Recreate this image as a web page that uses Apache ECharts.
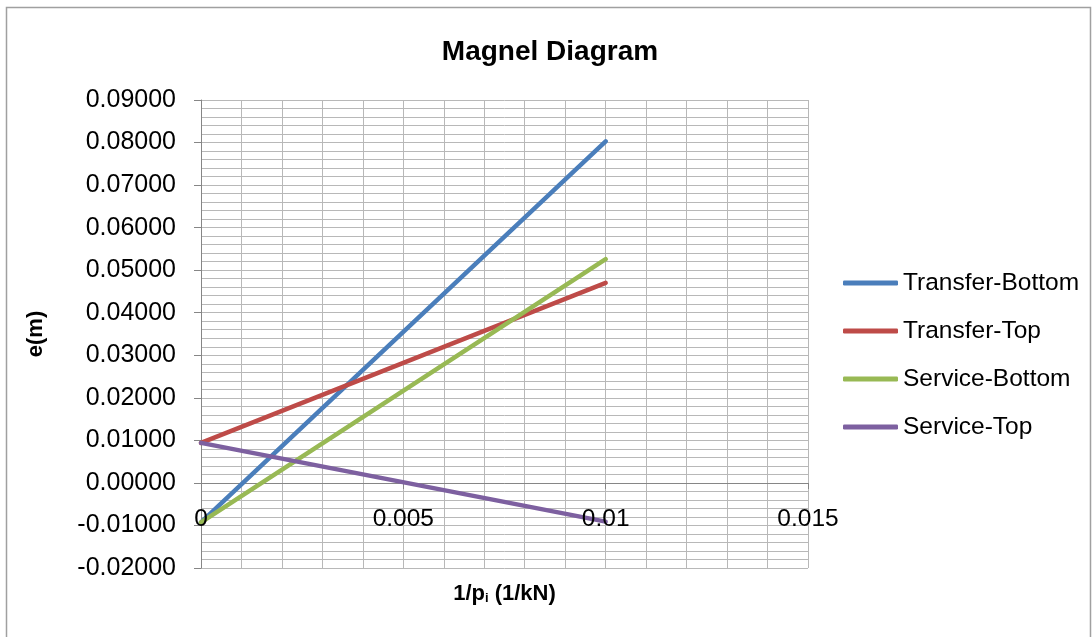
<!DOCTYPE html>
<html>
<head>
<meta charset="utf-8">
<script src="https://cdn.jsdelivr.net/npm/echarts@6/dist/echarts.min.js"></script>
<style>
html,body{margin:0;padding:0;background:#fff;}
#main{width:1092px;height:637px;}
</style>
</head>
<body>
<div id="main"></div>
<script>
const seriesNames = ['Transfer-Bottom', 'Transfer-Top', 'Service-Bottom', 'Service-Top'];
const xValues = [0, 0.01];
const transferBottom = [-0.0093, 0.0803];
const transferTop = [0.0094, 0.0470];
const serviceBottom = [-0.0093, 0.0526];
const serviceTop = [0.0094, -0.0091];
const colors = ['#4A7EBB', '#BE4B48', '#98B954', '#7D60A0'];

const allValues = [transferBottom, transferTop, serviceBottom, serviceTop];
const FONT = '"Liberation Sans", Arial, sans-serif';

const chart = echarts.init(document.getElementById('main'));
chart.setOption({
  animation: false,
  backgroundColor: '#fff',
  title: {
    text: 'Magnel Diagram',
    left: 545, top: 33, textAlign: 'center',
    textStyle: {fontFamily: FONT, fontWeight: 'bold', fontSize: 28, color: '#000'}
  },
  legend: {
    orient: 'vertical', left: 843, top: 270, padding: 0,
    icon: 'roundRect', itemWidth: 55, itemHeight: 5, itemGap: 22,
    textStyle: {fontFamily: FONT, fontSize: 24.5, color: '#000', lineHeight: 26},
    data: seriesNames
  },
  grid: {left: 201, right: 284, top: 100, bottom: 69, containLabel: false, outerBoundsMode: 'none'},
  xAxis: [{
    type: 'value', min: 0, max: 0.015, interval: 0.005,
    offset: -85,
    axisLine: {show: true, onZero: false, lineStyle: {color: '#868686', width: 1}},
    axisTick: {show: true, inside: false, length: 6, lineStyle: {color: '#868686'}},
    axisLabel: {show: false},
    splitLine: {show: true, lineStyle: {color: '#b8b8b8', width: 1}},
    minorTick: {show: false, splitNumber: 5},
    minorSplitLine: {show: true, lineStyle: {color: '#b8b8b8', width: 1}},
    name: '{a|1/p}{s|i}{a| (1/kN)}',
    nameLocation: 'middle', nameGap: 96,
    nameTextStyle: {
      rich: {
        a: {fontFamily: FONT, fontWeight: 'bold', fontSize: 22, color: '#000', lineHeight: 26, verticalAlign: 'bottom'},
        s: {fontFamily: FONT, fontWeight: 'bold', fontSize: 13, color: '#000', lineHeight: 20, verticalAlign: 'bottom'}
      }
    }
  }, {
    type: 'value', min: 0, max: 0.015, interval: 0.005,
    position: 'bottom', offset: -85, z: 10,
    axisLine: {show: false, onZero: false},
    axisTick: {show: false},
    splitLine: {show: false},
    axisLabel: {
      margin: 24, fontFamily: FONT, fontSize: 24.5, color: '#000',
      formatter: v => String(+v.toFixed(3))
    }
  }],
  yAxis: {
    type: 'value', min: -0.02, max: 0.09, interval: 0.01,
    axisLine: {show: true, onZero: false, lineStyle: {color: '#868686', width: 1}},
    axisTick: {show: true, inside: false, length: 7, lineStyle: {color: '#868686'}},
    axisLabel: {
      margin: 25, fontFamily: FONT, fontSize: 25, color: '#000',
      formatter: v => v.toFixed(5)
    },
    splitLine: {show: true, lineStyle: {color: '#b8b8b8', width: 1}},
    minorTick: {show: false, splitNumber: 5},
    minorSplitLine: {show: true, lineStyle: {color: '#b8b8b8', width: 1}},
    name: 'e(m)', nameLocation: 'middle', nameGap: 154,
    nameTextStyle: {fontFamily: FONT, fontWeight: 'bold', fontSize: 22, color: '#000'}
  },
  graphic: [{
    type: 'rect', silent: true, z: -1,
    shape: {x: 6.5, y: 7.5, width: 1084, height: 640},
    style: {fill: 'none', stroke: '#a0a0a0', lineWidth: 1.5}
  }],
  series: seriesNames.map((name, i) => ({
    name: name, type: 'line', showSymbol: false, symbol: 'none',
    xAxisIndex: 0,
    color: colors[i],
    lineStyle: {width: 4.5, color: colors[i], cap: 'round'},
    data: xValues.map((x, j) => [x, allValues[i][j]])
  }))
});
</script>
</body>
</html>
